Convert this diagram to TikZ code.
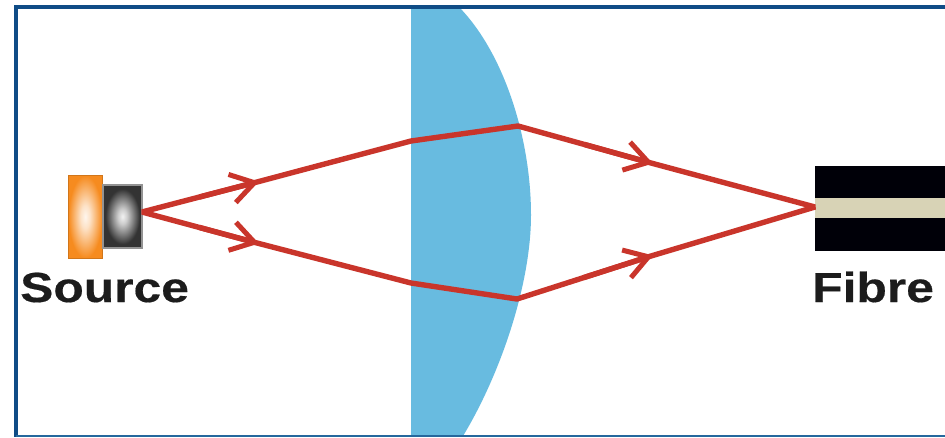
\documentclass[tikz,border=0pt]{standalone}
\usepackage{fontspec}
\usetikzlibrary{arrows.meta,calc}
\setmainfont{Liberation Sans}
\newfontfamily\labelfont[FakeStretch=1.185,FakeBold=0.4]{Liberation Sans Bold}
\definecolor{framec}{HTML}{0F4C86}
\definecolor{lensc}{HTML}{68BBE0}
\definecolor{rayc}{HTML}{C9352B}
\definecolor{corec}{HTML}{D8D3B6}
\definecolor{orangec}{HTML}{F68B1F}
\definecolor{grayc}{HTML}{333333}
\definecolor{textc}{HTML}{1C1C1C}
\pgfdeclareradialshading{orangeglow}{\pgfpoint{0bp}{0bp}}{color(0bp)=(white!92!orangec); color(7bp)=(white!75!orangec); color(25bp)=(orangec); color(50bp)=(orangec)}
\pgfdeclareradialshading{grayglow}{\pgfpoint{0bp}{0bp}}{color(0bp)=(white!95!black); color(6bp)=(white!80!black); color(22bp)=(grayc); color(50bp)=(grayc)}
\tikzset{
  raypath/.style={draw=rayc,line width=5.4pt,line join=bevel},
  raytip/.style={draw=rayc,line width=5.4pt,-{Straight Barb[length=23pt,width=29pt,line width=5pt]},shorten >=-2pt},
  caption/.style={font=\labelfont\fontsize{42}{42}\selectfont,text=textc,inner sep=0pt,anchor=base west}
}
\begin{document}
\begin{tikzpicture}[x=1pt,y=-1pt]
\useasboundingbox (0,0) rectangle (945,437);
\fill[white] (0,0) rectangle (945,437);
\clip (0,0) rectangle (945,437);
% lens
\fill[lensc] (411,8) -- (460,8) .. controls (505,55) and (531,140) .. (531,215)
  .. controls (531,285) and (500,375) .. (463,436) -- (411,436) -- cycle;
% frame
\draw[framec,line width=4.2pt] (945,7) -- (16,7) -- (16,437);
\draw[framec!75!lensc,line width=2pt] (16,436) -- (945,436);
% source
\shade[shading=orangeglow,draw=orangec!85!black,line width=.8pt] (68.5,175.5) rectangle (102,258);
\shade[shading=grayglow,draw=gray!85,line width=2.4pt] (103,185) rectangle (142,248);
% fibre
\fill[black!97!blue] (815,166) rectangle (945,251);
\fill[corec] (815,198) rectangle (945,218);
% rays
\coordinate (src) at (142,212);
\coordinate (fib) at (815,207);
\coordinate (a1) at (257,182);
\coordinate (b1) at (411,141);
\coordinate (c1) at (518,126);
\coordinate (d1) at (651,163);
\coordinate (a2) at (257,243);
\coordinate (b2) at (411,283);
\coordinate (c2) at (517,299);
\coordinate (d2) at (651,256);
\draw[raypath] (src) -- (a1) -- (b1) -- (c1) -- (d1) -- (fib) -- (d2) -- (c2) -- (b2) -- (a2) -- cycle;
\draw[raytip] ($(a1)!0.5!(src)$) -- (a1);
\draw[raytip] ($(a2)!0.5!(src)$) -- (a2);
\draw[raytip] ($(d1)!0.5!(c1)$) -- (d1);
\draw[raytip] ($(d2)!0.5!(c2)$) -- (d2);
% labels
\node[caption] (source) at (20,302) {Source};
\node[caption] (fibre) at (812,302) {Fibre};
\end{tikzpicture}
\end{document}
